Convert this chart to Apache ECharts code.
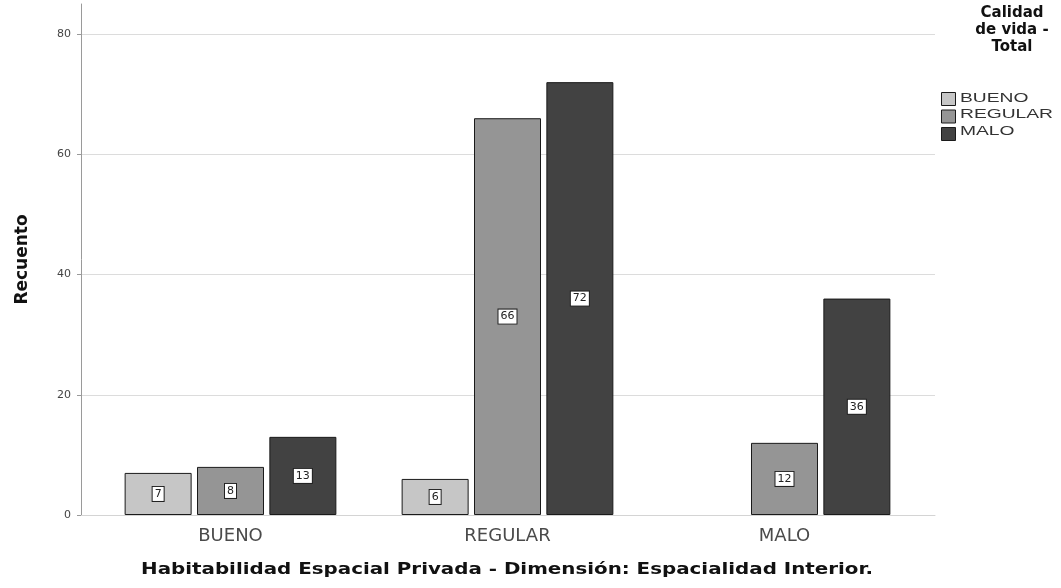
<!DOCTYPE html>
<html>
<head>
<meta charset="utf-8">
<script src="https://cdn.jsdelivr.net/npm/echarts@6/dist/echarts.min.js"></script>
<style>
  html, body { margin: 0; padding: 0; background: #fff; }
  #chart { width: 1061px; height: 588px; }
</style>
</head>
<body>
<div id="chart"></div>
<script>
// Habitabilidad Espacial Privada (Espacialidad Interior) x Calidad de vida
const categories = ['BUENO', 'REGULAR', 'MALO'];
const seriesNames = ['BUENO', 'REGULAR', 'MALO'];
const valuesBueno = [7, 6, null];
const valuesRegular = [8, 66, 12];
const valuesMalo = [13, 72, 36];
const yTicks = [0, 20, 40, 60, 80];
const xTitle = 'Habitabilidad Espacial Privada - Dimensión: Espacialidad Interior.';
const yTitle = 'Recuento';
const legendTitle = 'Calidad\nde vida -\nTotal';

const colors = ['#c6c6c6', '#959595', '#424242'];
const FONT = '"DejaVu Sans", Verdana, sans-serif';
const FONT_LEG = '"Liberation Sans", Arial, sans-serif';

const chart = echarts.init(document.getElementById('chart'), null, { renderer: 'canvas' });

const barLabel = {
  show: true,
  position: 'inside',
  color: '#222',
  fontFamily: FONT,
  fontSize: 11,
  backgroundColor: '#fff',
  borderColor: '#222',
  borderWidth: 1,
  padding: [2, 2, 1, 2],
  formatter: p => (p.value == null || p.value === 0) ? '' : String(p.value)
};

function barSeries(name, data, idx) {
  return {
    name: name,
    type: 'bar',
    xAxisIndex: 1,
    yAxisIndex: 1,
    data: data,
    barWidth: 67,
    barGap: '8%',
    itemStyle: { color: colors[idx], borderColor: '#1a1a1a', borderWidth: 1 },
    label: barLabel
  };
}

// legend entry labels, drawn wide next to the legend swatches
const legendLabels = seriesNames.map((n, i) => ({
  type: 'text',
  x: 960,
  y: 98 + i * 16.5,
  scaleX: 1.48,
  style: {
    text: n,
    textAlign: 'left',
    textVerticalAlign: 'middle',
    fontFamily: FONT_LEG,
    fontSize: 13,
    fill: '#333'
  }
}));

chart.setOption({
  animation: false,
  backgroundColor: '#fff',
  color: colors,
  grid: [
    // frame grid: axis line, ticks, gridlines, y title
    { left: 81, right: 126, top: 4, bottom: 73 },
    // bar grid
    { left: 92, right: 138, top: 4, bottom: 73 }
  ],
  xAxis: [
    {
      gridIndex: 0,
      type: 'category',
      data: categories,
      axisLine: { show: true, lineStyle: { color: '#d4d4d4', width: 1 } },
      axisTick: { show: false },
      axisLabel: { show: false }
    },
    {
      gridIndex: 1,
      type: 'category',
      data: categories,
      axisLine: { show: false },
      axisTick: { show: false },
      axisLabel: { color: '#4a4a4a', fontFamily: FONT, fontSize: 18, margin: 12 }
    }
  ],
  yAxis: [
    {
      gridIndex: 0,
      type: 'value',
      min: 0,
      max: 85,
      interval: 20,
      axisLine: { show: true, lineStyle: { color: '#9a9a9a', width: 1 } },
      axisTick: { show: true, length: 4, lineStyle: { color: '#9a9a9a' } },
      axisLabel: {
        color: '#444', fontFamily: FONT, fontSize: 11, margin: 10,
        showMaxLabel: false,
        formatter: v => yTicks.includes(v) ? String(v) : ''
      },
      splitLine: { show: true, showMaxLine: false, showMinLine: false, lineStyle: { color: '#dcdcdc', width: 1 } },
      name: yTitle,
      nameLocation: 'middle',
      nameGap: 50,
      nameRotate: 90,
      nameTextStyle: { fontFamily: FONT, fontWeight: 'bold', fontSize: 17, color: '#111' }
    },
    {
      gridIndex: 1,
      type: 'value',
      min: 0,
      max: 85,
      interval: 20,
      show: false
    }
  ],
  legend: {
    data: seriesNames,
    orient: 'vertical',
    left: 941,
    top: 92,
    padding: 0,
    itemWidth: 14,
    itemHeight: 13,
    itemGap: 3.5,
    icon: 'rect',
    selectedMode: false,
    formatter: () => '',
    itemStyle: { borderColor: '#1a1a1a', borderWidth: 1 },
    textStyle: { fontSize: 13 }
  },
  graphic: [
    {
      type: 'text',
      x: 1012,
      y: 5,
      style: {
        text: legendTitle,
        textAlign: 'center',
        fontFamily: FONT,
        fontWeight: 'bold',
        fontSize: 15,
        lineHeight: 17,
        fill: '#111'
      }
    },
    {
      type: 'text',
      x: 507,
      y: 570,
      scaleX: 1.24,
      style: {
        text: xTitle,
        textAlign: 'center',
        textVerticalAlign: 'middle',
        fontFamily: FONT,
        fontWeight: 'bold',
        fontSize: 16,
        fill: '#111'
      }
    }
  ].concat(legendLabels),
  series: [
    barSeries(seriesNames[0], valuesBueno, 0),
    barSeries(seriesNames[1], valuesRegular, 1),
    barSeries(seriesNames[2], valuesMalo, 2)
  ]
});
</script>
</body>
</html>
